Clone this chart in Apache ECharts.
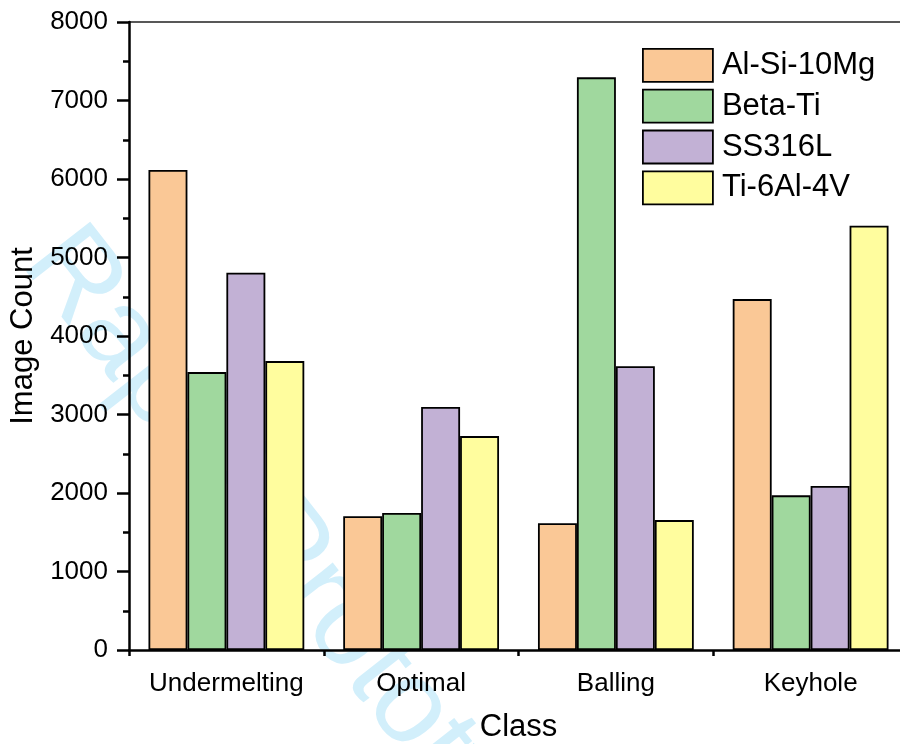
<!DOCTYPE html>
<html>
<head>
<meta charset="utf-8">
<script src="https://cdn.jsdelivr.net/npm/echarts@6/dist/echarts.min.js"></script>
<style>
  html, body { margin: 0; padding: 0; background: #fff; }
  #chart { width: 900px; height: 744px; }
</style>
</head>
<body>
<div id="chart"></div>
<script>
// Image counts per melt-pool class for each alloy
const classes = ['Undermelting', 'Optimal', 'Balling', 'Keyhole'];
const alloys = ['Al-Si-10Mg', 'Beta-Ti', 'SS316L', 'Ti-6Al-4V'];
const alSi10Mg = [6115, 1705, 1615, 4470];
const betaTi = [3540, 1745, 7295, 1970];
const ss316L = [4805, 3095, 3615, 2090];
const ti6Al4V = [3680, 2725, 1655, 5405];
const yTicks = { min: 0, max: 8000, step: 1000 };

const fills = ['#FAC896', '#A0D89E', '#C2B1D5', '#FFFD9E'];
const font = '"Liberation Sans", Arial, sans-serif';
const seriesValues = [alSi10Mg, betaTi, ss316L, ti6Al4V];

const chart = echarts.init(document.getElementById('chart'), null, { renderer: 'canvas' });

const wmAngle = 52 * Math.PI / 180;

chart.setOption({
  animation: false,
  backgroundColor: '#fff',
  textStyle: { fontFamily: font },
  grid: { left: 129, right: -8, top: 22, bottom: 94, containLabel: false, outerBoundsMode: 'none' },
  graphic: [{
    type: 'text',
    z: -10,
    silent: true,
    x: 46, y: 244,
    rotation: -wmAngle,
    style: {
      text: 'Rapid Prototyping',
      x: 0, y: 0,
      fill: '#d2effb',
      font: '118px ' + font,
      verticalAlign: 'middle',
      align: 'left'
    }
  }],
  legend: {
    orient: 'vertical',
    left: 642,
    top: 48,
    padding: 0,
    icon: 'rect',
    itemWidth: 70,
    itemHeight: 33,
    itemGap: 6,
    data: alloys,
    itemStyle: { borderColor: '#000', borderWidth: 1.8 },
    textStyle: { fontSize: 31, color: '#000', fontFamily: font, padding: [0, 0, 0, 4] }
  },
  xAxis: [
    {
      type: 'category',
      data: classes,
      position: 'bottom',
      axisLine: { lineStyle: { color: '#000', width: 2.5 } },
      axisTick: { alignWithLabel: true, length: 12, lineStyle: { color: '#000', width: 2.5 } },
      axisLabel: { interval: 0, fontSize: 26, color: '#000', margin: 21, fontFamily: font },
      name: 'Class',
      nameLocation: 'middle',
      nameGap: 62,
      nameTextStyle: { fontSize: 31, color: '#000', fontFamily: font },
      z: 3
    },
    {
      type: 'category',
      data: classes,
      position: 'bottom',
      axisLine: { show: false },
      axisTick: { show: true, length: 6, lineStyle: { color: '#000', width: 2.5 } },
      axisLabel: { show: false },
      z: 3
    },
    {
      type: 'category',
      data: classes,
      position: 'top',
      axisLine: { lineStyle: { color: '#222', width: 1.5 } },
      axisTick: { show: false },
      axisLabel: { show: false }
    }
  ],
  yAxis: {
    type: 'value',
    min: yTicks.min,
    max: yTicks.max,
    interval: yTicks.step,
    axisLine: { show: true, lineStyle: { color: '#000', width: 2.5 } },
    axisTick: { show: true, length: 12, lineStyle: { color: '#000', width: 2.5 } },
    minorTick: { show: true, splitNumber: 2, length: 6, lineStyle: { color: '#000', width: 2.5 } },
    splitLine: { show: false },
    axisLabel: { fontSize: 26, color: '#000', margin: 21, fontFamily: font, formatter: v => String(v) },
    name: 'Image Count',
    nameLocation: 'middle',
    nameGap: 75,
    nameTextStyle: { fontSize: 31, color: '#000', fontFamily: font },
    z: 3
  },
  series: alloys.map((name, i) => ({
    name,
    type: 'bar',
    xAxisIndex: 0,
    data: seriesValues[i],
    barGap: '0%',
    barCategoryGap: '20%',
    itemStyle: { color: fills[i], borderColor: '#000', borderWidth: 1.8 }
  }))
});
</script>
</body>
</html>
